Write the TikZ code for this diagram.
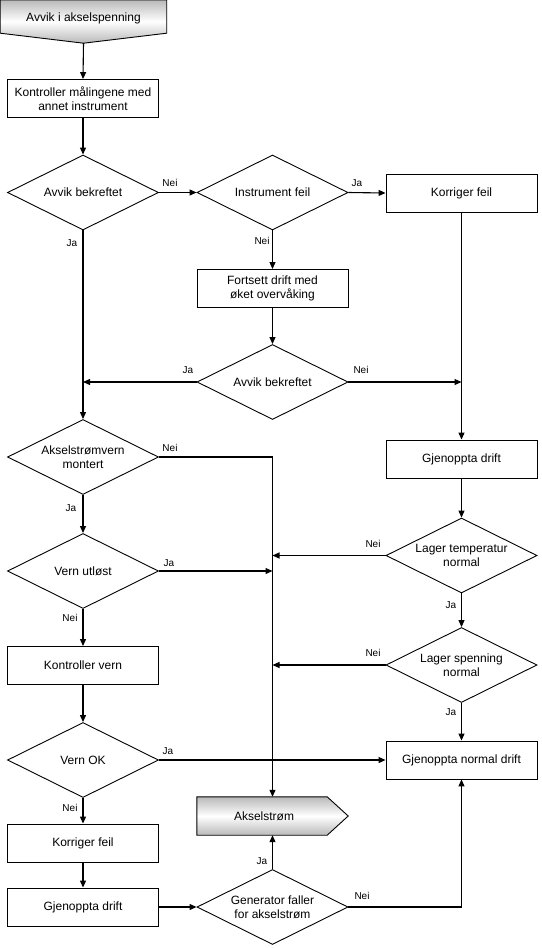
\documentclass[tikz,border=0pt]{standalone}
\usepackage{fontspec}
\setmainfont{Liberation Sans}
\usetikzlibrary{shapes.geometric,arrows.meta}
\begin{document}
\begin{tikzpicture}[x=1pt,y=-1pt,
  box/.style={draw, line width=0.9pt, minimum width=151pt, minimum height=38pt, inner sep=1pt, align=center, font=\fontsize{12}{14}\selectfont},
  dia/.style={draw, line width=0.9pt, diamond, aspect=2, minimum width=151pt, minimum height=75pt, inner sep=0pt},
  dtext/.style={align=center, inner sep=0pt, font=\fontsize{12}{14}\selectfont},
  lab/.style={inner sep=0pt, font=\fontsize{10}{12}\selectfont},
  arr/.style={line width=1.1pt, -{Triangle[length=7pt,width=6pt]}},
  ln/.style={line width=1.1pt},
  shd/.style={draw, line width=0.9pt, top color=gray!55, bottom color=gray!55, middle color=white}
]
\useasboundingbox (0,0) rectangle (541,948);

% start shape
\node[minimum width=166pt, minimum height=43pt, inner sep=0pt] (start) at (83.5,21.5) {};
\path[shd] (start.north west) -- (start.north east) -- ([yshift=10pt]start.south east) -- (start.south) -- ([yshift=10pt]start.south west) -- cycle;
\node[dtext] (startt) at (83.5,18) {Avvik i akselspenning};

% boxes
\node[box] (b1) at (83,98.5) {Kontroller målingene med\\annet instrument};
\node[box] (kf1) at (461.5,193) {Korriger feil};
\node[box] (fd) at (272.5,288.5) {Fortsett drift med\\øket overvåking};
\node[box] (gd1) at (461.5,459) {Gjenoppta drift};
\node[box] (kv) at (83,665.5) {Kontroller vern};
\node[box] (gnd) at (461.5,760) {Gjenoppta normal drift};
\node[box] (kf2) at (83,843) {Korriger feil};
\node[box] (gd2) at (83,907) {Gjenoppta drift};

% diamonds
\node[dia] (d1) at (83,192.5) {};
\node[dtext] (d1t) at (d1) {Avvik bekreftet};
\node[dia] (d2) at (272.5,192.5) {};
\node[dtext] (d2t) at (d2) {Instrument feil};
\node[dia] (d3) at (272.5,382) {};
\node[dtext] (d3t) at (d3) {Avvik bekreftet};
\node[dia] (d4) at (83,457) {};
\node[dtext] (d4t) at (d4) {Akselstrømvern\\montert};
\node[dia] (d5) at (461.5,555.5) {};
\node[dtext] (d5t) at (d5) {Lager temperatur\\normal};
\node[dia] (d6) at (83,571) {};
\node[dtext] (d6t) at (d6) {Vern utløst};
\node[dia] (d7) at (461.5,665) {};
\node[dtext] (d7t) at (d7) {Lager spenning\\normal};
\node[dia] (d8) at (83,760) {};
\node[dtext] (d8t) at (d8) {Vern OK};
\node[dia] (d9) at (272.5,907) {};
\node[dtext] (d9t) at (d9) {Generator faller\\for akselstrøm};

% Akselstrøm off-page shape
\node[minimum width=151pt, minimum height=38pt, inner sep=0pt] (aks) at (272.5,816) {};
\path[shd] (aks.north west) -- ([xshift=-21pt]aks.north east) -- (aks.east) -- ([xshift=-21pt]aks.south east) -- (aks.south west) -- cycle;
\node[dtext] (akst) at (264,816) {Akselstrøm};

% junction coordinates
\coordinate (jL) at (83,382);
\coordinate (jR) at (461.5,382);
\coordinate (m1) at (272.5,571);
\coordinate (m2) at (272.5,555.5);
\coordinate (m3) at (272.5,665);

% connectors
\draw[arr] (start.south) -- (b1.north);
\draw[arr] (b1.south) -- (d1.north);
\draw[arr] (d1.east) -- (d2.west);
\draw[arr] (d2.east) -- (kf1.west);
\draw[arr] (d2.south) -- (fd.north);
\draw[arr] (fd.south) -- (d3.north);
\draw[arr] (d3.west) -- (jL);
\draw[arr] (d3.east) -- (jR);
\draw[arr] (d1.south) -- (d4.north);
\draw[arr] (kf1.south) -- (gd1.north);
\draw[arr] (d4.east) -| (aks.north);
\draw[arr] (d4.south) -- (d6.north);
\draw[arr] (d6.east) -- (m1);
\draw[arr] (d6.south) -- (kv.north);
\draw[arr] (kv.south) -- (d8.north);
\draw[arr] (d8.east) -- (gnd.west);
\draw[arr] (d8.south) -- (kf2.north);
\draw[arr] (kf2.south) -- (gd2.north);
\draw[arr] (gd2.east) -- (d9.west);
\draw[arr] (d9.north) -- (aks.south);
\draw[arr] (d9.east) -| (gnd.south);
\draw[arr] (gd1.south) -- (d5.north);
\draw[arr] (d5.west) -- (m2);
\draw[arr] (d5.south) -- (d7.north);
\draw[arr] (d7.west) -- (m3);
\draw[arr] (d7.south) -- (gnd.north);

% labels
\node[lab] (l1) at (170,183) {Nei};
\node[lab] (l2) at (357,183) {Ja};
\node[lab] (l3) at (72,243) {Ja};
\node[lab] (l4) at (262,241) {Nei};
\node[lab] (l5) at (188,370) {Ja};
\node[lab] (l6) at (361,370) {Nei};
\node[lab] (l7) at (170,448) {Nei};
\node[lab] (l8) at (71,508) {Ja};
\node[lab] (l9) at (169,563) {Ja};
\node[lab] (l10) at (70,618) {Nei};
\node[lab] (l11) at (373,544) {Nei};
\node[lab] (l12) at (451,605) {Ja};
\node[lab] (l13) at (373,653) {Nei};
\node[lab] (l14) at (451,712) {Ja};
\node[lab] (l15) at (168,751) {Ja};
\node[lab] (l16) at (70,808) {Nei};
\node[lab] (l17) at (262,861) {Ja};
\node[lab] (l18) at (362,896) {Nei};
\end{tikzpicture}
\end{document}
